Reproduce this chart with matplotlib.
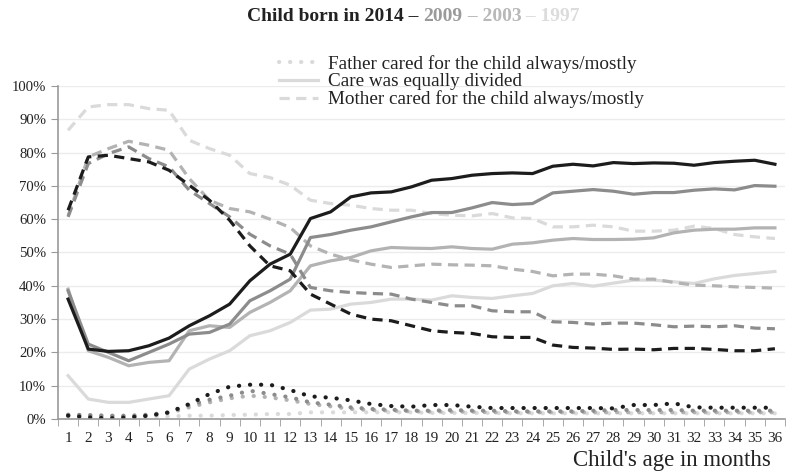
import numpy as np
import matplotlib
matplotlib.use("Agg")
import matplotlib.pyplot as plt
from matplotlib.lines import Line2D

plt.rcParams['font.family'] = ['Liberation Serif', 'DejaVu Serif']

months = list(range(1, 37))
years = ["2014", "2009", "2003", "1997"]
year_colors = {"2014": "#1c1c1c", "2009": "#8c8c8c", "2003": "#b3b3b3", "1997": "#dadada"}

father = {
    "2014": [1, 0.5, 0.2, 0.5, 1, 2, 4.5, 7.5, 9.7, 10.3, 10.3, 8.7, 6.8, 6.4, 5.6, 4.5, 3.9, 3.7,
             4.2, 4.2, 3.7, 3.3, 3.3, 3.3, 3.3, 3.3, 3.3, 3.2, 4.2, 4.2, 4.7, 3.5, 3.4, 3.4, 3.4, 3.4],
    "2009": [1.3, 1.2, 1, 1, 1.3, 2, 4.2, 5.8, 7, 8.5, 7.5, 6.5, 5, 4.3, 3.5, 3, 2.8, 2.5,
             2.5, 2.7, 2.5, 2.5, 2.3, 2.3, 2.3, 2.3, 2.5, 2.7, 2.7, 2.7, 2.7, 2.5, 2.5, 2.5, 2.5, 2.5],
    "2003": [1.2, 1, 0.8, 0.8, 1, 1.8, 3.5, 5, 6.2, 7, 6.5, 5.6, 4.5, 3.8, 3, 2.7, 2.5, 2.3,
             2.2, 2.2, 2.2, 2, 2, 2, 2, 2, 2, 2, 2, 2, 2, 2, 2, 2, 2, 2],
    "1997": [0.8, 0.6, 0.5, 0.5, 0.6, 0.8, 1, 1, 1.2, 1.3, 1.5, 1.5, 2, 2, 2, 2, 2, 2,
             1.8, 1.8, 1.8, 1.8, 1.7, 1.7, 1.7, 1.7, 1.7, 1.7, 1.7, 1.7, 1.7, 1.7, 1.7, 1.7, 1.7, 1.7],
}

equal = {
    "2014": [36, 21, 20.3, 20.5, 22, 24.3, 28, 31, 34.5, 41.5, 46.5, 49.5, 60.2, 62.2, 66.7, 67.9, 68.2, 69.7,
             71.7, 72.2, 73.2, 73.7, 73.9, 73.7, 75.9, 76.5, 76, 77, 76.7, 76.9, 76.8, 76.2, 77, 77.4, 77.7, 76.5],
    "2009": [38.5, 22.5, 20, 17.5, 20, 22.5, 25.5, 26, 28.5, 35.5, 38.5, 42, 54.5, 55.4, 56.7, 57.7, 59.2, 60.7,
             62, 62, 63.4, 65, 64.4, 64.7, 67.9, 68.4, 68.9, 68.4, 67.5, 68, 68, 68.7, 69.1, 68.8, 70.1, 69.9],
    "2003": [39, 20.5, 18.5, 16, 17, 17.5, 26.5, 28, 27.5, 32, 35, 38.5, 46, 47.5, 48.5, 50.5, 51.5, 51.3,
             51.2, 51.7, 51.2, 51, 52.5, 52.9, 53.7, 54.2, 53.9, 53.9, 54, 54.4, 55.9, 56.7, 57, 57, 57.4, 57.4],
    "1997": [13, 6, 5, 5, 6, 7, 15, 18, 20.5, 25, 26.5, 29, 32.7, 33, 34.5, 35, 36, 36,
             35.7, 37, 36.5, 36.2, 37, 37.7, 40, 40.7, 39.9, 40.8, 41.7, 41.7, 41.2, 40.7, 42.1, 43.1, 43.7, 44.3],
}

mother = {
    "2014": [62.7, 78.7, 79.2, 78.2, 77.2, 74.7, 70.2, 65.7, 59.7, 52, 46, 44.5, 37.5, 34.5, 31.5, 30, 29.5, 28,
             26.5, 26, 25.7, 24.7, 24.5, 24.5, 22.2, 21.5, 21.3, 20.9, 21, 20.8, 21.2, 21.2, 20.9, 20.5, 20.5, 21.1],
    "2009": [60.7, 76.7, 79.7, 81.7, 78.2, 75.7, 68.7, 64.7, 60.7, 55.5, 52, 49.5, 39.5, 38.5, 38, 37.7, 37.5, 36,
             35, 34, 34, 32.5, 32.2, 32.2, 29.2, 29, 28.5, 28.8, 28.8, 28.3, 27.7, 27.9, 27.7, 28, 27.3, 27.1],
    "2003": [61, 78.7, 81.2, 83.4, 82.2, 80.7, 72.2, 65.7, 63.2, 62.2, 60, 57.5, 52, 49.5, 47.8, 46.5, 45.5, 46,
             46.5, 46.3, 46.2, 46, 45, 44.3, 43, 43.5, 43.5, 43, 42, 42, 41, 40.2, 40, 39.7, 39.5, 39.3],
    "1997": [86.7, 93.7, 94.4, 94.4, 93.2, 92.7, 83.7, 81.2, 79.2, 73.7, 72.5, 70.2, 65.7, 64.7, 64.2, 63.2, 62.7, 62.7,
             61.7, 61.2, 61, 61.7, 60.4, 60.2, 57.7, 57.7, 58.2, 57.7, 56.4, 56.4, 56.7, 57.9, 57.2, 55.4, 54.7, 54.2],
}

legend_labels = ["Father cared for the child always/mostly",
                 "Care was equally divided",
                 "Mother cared for the child always/mostly"]
title_parts = [("Child born in 2014 \u2013 ", "#222222"), ("2009", "#9a9a9a"),
               (" \u2013 2003", "#b8b8b8"), (" \u2013 1997", "#dcdcdc")]

dot_style = (0, (0.05, 2.6))
dash_style = (0, (3.2, 2.0))

fig = plt.figure(figsize=(7.9, 4.74), dpi=100)
ax = fig.add_axes([0.0734, 0.116, 0.9203, 0.7026])

# lightest cohort first so 2014 sits on top
for yr in reversed(years):
    c = year_colors[yr]
    ax.plot(months, father[yr], color=c, lw=3.0, linestyle=dot_style, dash_capstyle='round')
    ax.plot(months, equal[yr], color=c, lw=2.3, solid_joinstyle='round')
    ax.plot(months, mother[yr], color=c, lw=2.3, linestyle=dash_style)

ax.set_xlim(0.5, 36.5)
ax.set_ylim(0, 100)
ax.set_yticks(np.arange(0, 101, 10))
ax.set_yticklabels([f"{v}%" for v in range(0, 101, 10)])
ax.set_xticks(months)
ax.set_xticklabels([str(m) for m in months])
ax.set_xticks(np.arange(0.5, 37, 1), minor=True)
ax.tick_params(axis='x', which='major', length=0, pad=9, labelsize=11, colors='#222222')
ax.tick_params(axis='x', which='minor', length=5, color='#9a9a9a')
ax.tick_params(axis='y', length=5, labelsize=10.6, labelcolor='#222222', color='#9a9a9a')
ax.yaxis.grid(True, color='#ececec', lw=1)
ax.set_axisbelow(True)
for s in ['top', 'right']:
    ax.spines[s].set_visible(False)
for s in ['left', 'bottom']:
    ax.spines[s].set_color('#9a9a9a')
    ax.spines[s].set_linewidth(1.2)

handles = [Line2D([], [], color=year_colors["1997"], lw=3.0, linestyle=dot_style, dash_capstyle='round'),
           Line2D([], [], color=year_colors["1997"], lw=2.3),
           Line2D([], [], color=year_colors["1997"], lw=2.3, linestyle=dash_style)]
fig.legend(handles, legend_labels, loc='upper left', bbox_to_anchor=(0.344, 0.9),
           frameon=False, fontsize=13.8, handlelength=2.0, handletextpad=0.55,
           labelspacing=0.0, borderaxespad=0, labelcolor='#222222')

fig.text(0.976, 0.006, "Child's age in months", ha='right', va='bottom', fontsize=16.5, color='#222222')

# title in pieces of different grey
renderer = fig.canvas.get_renderer()
x0 = 0.313
for txt, col in title_parts:
    t = fig.text(x0, 0.965, txt, ha='left', va='center', fontsize=14, fontweight='bold', color=col)
    x0 += t.get_window_extent(renderer=renderer).width / fig.bbox.width

fig.savefig("out.png", dpi=100)
